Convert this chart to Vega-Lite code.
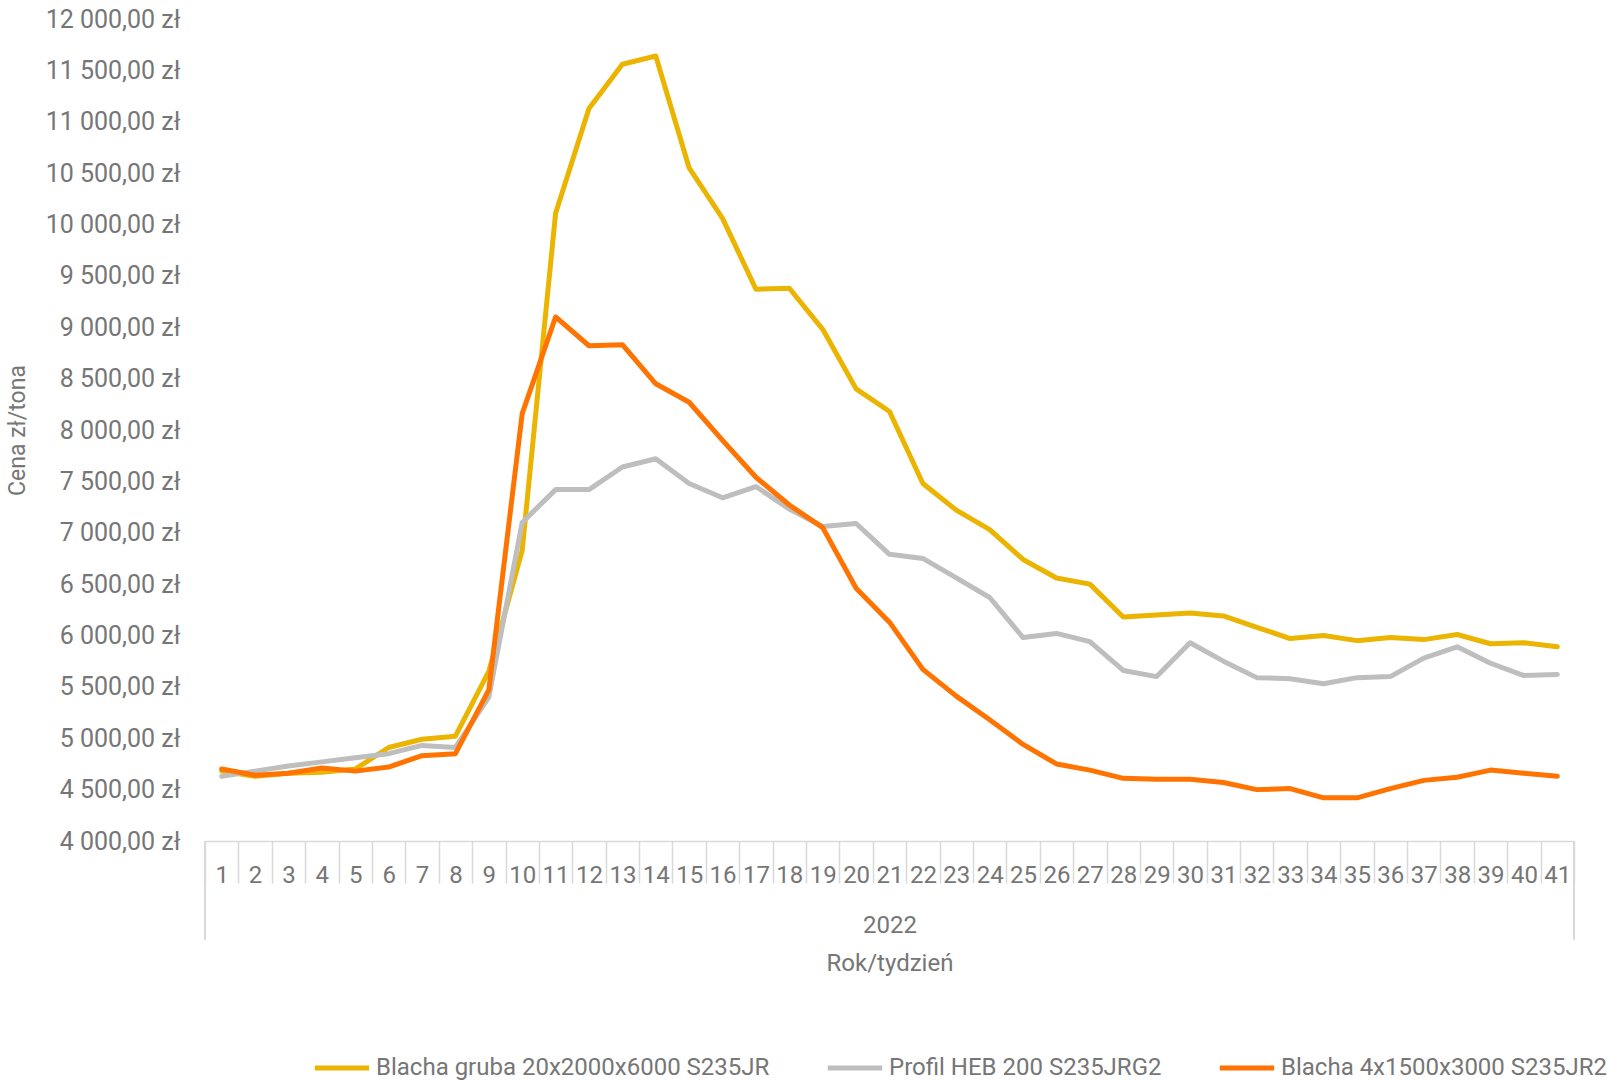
{
  "$schema": "https://vega.github.io/schema/vega-lite/v6.json",
  "width": 1369,
  "height": 822,
  "autosize": {"type": "none"},
  "padding": {"left": 205, "top": 19, "right": 39, "bottom": 239},
  "background": "white",
  "config": {
    "view": {"stroke": null},
    "locale": {"number": {"decimal": ",", "thousands": " ", "grouping": [3], "currency": ["", " zł"]}},
    "font": "Roboto",
    "axis": {"labelColor": "#767676", "titleColor": "#767676", "labelFont": "Roboto", "titleFont": "Roboto", "titleFontWeight": "normal"},
    "legend": {"labelColor": "#767676", "labelFont": "Roboto"}
  },
  "datasets": {
    "prices": [
      {"week": 1, "series": "Blacha gruba 20x2000x6000 S235JR", "price": 4680},
      {"week": 2, "series": "Blacha gruba 20x2000x6000 S235JR", "price": 4630},
      {"week": 3, "series": "Blacha gruba 20x2000x6000 S235JR", "price": 4660},
      {"week": 4, "series": "Blacha gruba 20x2000x6000 S235JR", "price": 4670},
      {"week": 5, "series": "Blacha gruba 20x2000x6000 S235JR", "price": 4700},
      {"week": 6, "series": "Blacha gruba 20x2000x6000 S235JR", "price": 4910},
      {"week": 7, "series": "Blacha gruba 20x2000x6000 S235JR", "price": 4990},
      {"week": 8, "series": "Blacha gruba 20x2000x6000 S235JR", "price": 5020},
      {"week": 9, "series": "Blacha gruba 20x2000x6000 S235JR", "price": 5650},
      {"week": 10, "series": "Blacha gruba 20x2000x6000 S235JR", "price": 6830},
      {"week": 11, "series": "Blacha gruba 20x2000x6000 S235JR", "price": 10110},
      {"week": 12, "series": "Blacha gruba 20x2000x6000 S235JR", "price": 11130},
      {"week": 13, "series": "Blacha gruba 20x2000x6000 S235JR", "price": 11560},
      {"week": 14, "series": "Blacha gruba 20x2000x6000 S235JR", "price": 11640},
      {"week": 15, "series": "Blacha gruba 20x2000x6000 S235JR", "price": 10550},
      {"week": 16, "series": "Blacha gruba 20x2000x6000 S235JR", "price": 10060},
      {"week": 17, "series": "Blacha gruba 20x2000x6000 S235JR", "price": 9370},
      {"week": 18, "series": "Blacha gruba 20x2000x6000 S235JR", "price": 9380},
      {"week": 19, "series": "Blacha gruba 20x2000x6000 S235JR", "price": 8980},
      {"week": 20, "series": "Blacha gruba 20x2000x6000 S235JR", "price": 8400},
      {"week": 21, "series": "Blacha gruba 20x2000x6000 S235JR", "price": 8180},
      {"week": 22, "series": "Blacha gruba 20x2000x6000 S235JR", "price": 7480},
      {"week": 23, "series": "Blacha gruba 20x2000x6000 S235JR", "price": 7220},
      {"week": 24, "series": "Blacha gruba 20x2000x6000 S235JR", "price": 7030},
      {"week": 25, "series": "Blacha gruba 20x2000x6000 S235JR", "price": 6740},
      {"week": 26, "series": "Blacha gruba 20x2000x6000 S235JR", "price": 6560},
      {"week": 27, "series": "Blacha gruba 20x2000x6000 S235JR", "price": 6500},
      {"week": 28, "series": "Blacha gruba 20x2000x6000 S235JR", "price": 6180},
      {"week": 29, "series": "Blacha gruba 20x2000x6000 S235JR", "price": 6200},
      {"week": 30, "series": "Blacha gruba 20x2000x6000 S235JR", "price": 6220},
      {"week": 31, "series": "Blacha gruba 20x2000x6000 S235JR", "price": 6190},
      {"week": 32, "series": "Blacha gruba 20x2000x6000 S235JR", "price": 6080},
      {"week": 33, "series": "Blacha gruba 20x2000x6000 S235JR", "price": 5970},
      {"week": 34, "series": "Blacha gruba 20x2000x6000 S235JR", "price": 6000},
      {"week": 35, "series": "Blacha gruba 20x2000x6000 S235JR", "price": 5950},
      {"week": 36, "series": "Blacha gruba 20x2000x6000 S235JR", "price": 5980},
      {"week": 37, "series": "Blacha gruba 20x2000x6000 S235JR", "price": 5960},
      {"week": 38, "series": "Blacha gruba 20x2000x6000 S235JR", "price": 6010},
      {"week": 39, "series": "Blacha gruba 20x2000x6000 S235JR", "price": 5920},
      {"week": 40, "series": "Blacha gruba 20x2000x6000 S235JR", "price": 5930},
      {"week": 41, "series": "Blacha gruba 20x2000x6000 S235JR", "price": 5890},
      {"week": 1, "series": "Profil HEB 200 S235JRG2", "price": 4630},
      {"week": 2, "series": "Profil HEB 200 S235JRG2", "price": 4680},
      {"week": 3, "series": "Profil HEB 200 S235JRG2", "price": 4730},
      {"week": 4, "series": "Profil HEB 200 S235JRG2", "price": 4770},
      {"week": 5, "series": "Profil HEB 200 S235JRG2", "price": 4810},
      {"week": 6, "series": "Profil HEB 200 S235JRG2", "price": 4850},
      {"week": 7, "series": "Profil HEB 200 S235JRG2", "price": 4930},
      {"week": 8, "series": "Profil HEB 200 S235JRG2", "price": 4910},
      {"week": 9, "series": "Profil HEB 200 S235JRG2", "price": 5400},
      {"week": 10, "series": "Profil HEB 200 S235JRG2", "price": 7100},
      {"week": 11, "series": "Profil HEB 200 S235JRG2", "price": 7420},
      {"week": 12, "series": "Profil HEB 200 S235JRG2", "price": 7420},
      {"week": 13, "series": "Profil HEB 200 S235JRG2", "price": 7640},
      {"week": 14, "series": "Profil HEB 200 S235JRG2", "price": 7720},
      {"week": 15, "series": "Profil HEB 200 S235JRG2", "price": 7480},
      {"week": 16, "series": "Profil HEB 200 S235JRG2", "price": 7340},
      {"week": 17, "series": "Profil HEB 200 S235JRG2", "price": 7450},
      {"week": 18, "series": "Profil HEB 200 S235JRG2", "price": 7230},
      {"week": 19, "series": "Profil HEB 200 S235JRG2", "price": 7060},
      {"week": 20, "series": "Profil HEB 200 S235JRG2", "price": 7090},
      {"week": 21, "series": "Profil HEB 200 S235JRG2", "price": 6790},
      {"week": 22, "series": "Profil HEB 200 S235JRG2", "price": 6750},
      {"week": 23, "series": "Profil HEB 200 S235JRG2", "price": 6560},
      {"week": 24, "series": "Profil HEB 200 S235JRG2", "price": 6370},
      {"week": 25, "series": "Profil HEB 200 S235JRG2", "price": 5980},
      {"week": 26, "series": "Profil HEB 200 S235JRG2", "price": 6020},
      {"week": 27, "series": "Profil HEB 200 S235JRG2", "price": 5940},
      {"week": 28, "series": "Profil HEB 200 S235JRG2", "price": 5660},
      {"week": 29, "series": "Profil HEB 200 S235JRG2", "price": 5600},
      {"week": 30, "series": "Profil HEB 200 S235JRG2", "price": 5930},
      {"week": 31, "series": "Profil HEB 200 S235JRG2", "price": 5750},
      {"week": 32, "series": "Profil HEB 200 S235JRG2", "price": 5590},
      {"week": 33, "series": "Profil HEB 200 S235JRG2", "price": 5580},
      {"week": 34, "series": "Profil HEB 200 S235JRG2", "price": 5530},
      {"week": 35, "series": "Profil HEB 200 S235JRG2", "price": 5590},
      {"week": 36, "series": "Profil HEB 200 S235JRG2", "price": 5600},
      {"week": 37, "series": "Profil HEB 200 S235JRG2", "price": 5780},
      {"week": 38, "series": "Profil HEB 200 S235JRG2", "price": 5890},
      {"week": 39, "series": "Profil HEB 200 S235JRG2", "price": 5730},
      {"week": 40, "series": "Profil HEB 200 S235JRG2", "price": 5610},
      {"week": 41, "series": "Profil HEB 200 S235JRG2", "price": 5620},
      {"week": 1, "series": "Blacha 4x1500x3000 S235JR2", "price": 4700},
      {"week": 2, "series": "Blacha 4x1500x3000 S235JR2", "price": 4640},
      {"week": 3, "series": "Blacha 4x1500x3000 S235JR2", "price": 4660},
      {"week": 4, "series": "Blacha 4x1500x3000 S235JR2", "price": 4710},
      {"week": 5, "series": "Blacha 4x1500x3000 S235JR2", "price": 4680},
      {"week": 6, "series": "Blacha 4x1500x3000 S235JR2", "price": 4720},
      {"week": 7, "series": "Blacha 4x1500x3000 S235JR2", "price": 4830},
      {"week": 8, "series": "Blacha 4x1500x3000 S235JR2", "price": 4850},
      {"week": 9, "series": "Blacha 4x1500x3000 S235JR2", "price": 5470},
      {"week": 10, "series": "Blacha 4x1500x3000 S235JR2", "price": 8160},
      {"week": 11, "series": "Blacha 4x1500x3000 S235JR2", "price": 9100},
      {"week": 12, "series": "Blacha 4x1500x3000 S235JR2", "price": 8820},
      {"week": 13, "series": "Blacha 4x1500x3000 S235JR2", "price": 8830},
      {"week": 14, "series": "Blacha 4x1500x3000 S235JR2", "price": 8450},
      {"week": 15, "series": "Blacha 4x1500x3000 S235JR2", "price": 8270},
      {"week": 16, "series": "Blacha 4x1500x3000 S235JR2", "price": 7900},
      {"week": 17, "series": "Blacha 4x1500x3000 S235JR2", "price": 7540},
      {"week": 18, "series": "Blacha 4x1500x3000 S235JR2", "price": 7270},
      {"week": 19, "series": "Blacha 4x1500x3000 S235JR2", "price": 7050},
      {"week": 20, "series": "Blacha 4x1500x3000 S235JR2", "price": 6460},
      {"week": 21, "series": "Blacha 4x1500x3000 S235JR2", "price": 6130},
      {"week": 22, "series": "Blacha 4x1500x3000 S235JR2", "price": 5670},
      {"week": 23, "series": "Blacha 4x1500x3000 S235JR2", "price": 5410},
      {"week": 24, "series": "Blacha 4x1500x3000 S235JR2", "price": 5180},
      {"week": 25, "series": "Blacha 4x1500x3000 S235JR2", "price": 4940},
      {"week": 26, "series": "Blacha 4x1500x3000 S235JR2", "price": 4750},
      {"week": 27, "series": "Blacha 4x1500x3000 S235JR2", "price": 4690},
      {"week": 28, "series": "Blacha 4x1500x3000 S235JR2", "price": 4610},
      {"week": 29, "series": "Blacha 4x1500x3000 S235JR2", "price": 4600},
      {"week": 30, "series": "Blacha 4x1500x3000 S235JR2", "price": 4600},
      {"week": 31, "series": "Blacha 4x1500x3000 S235JR2", "price": 4570},
      {"week": 32, "series": "Blacha 4x1500x3000 S235JR2", "price": 4500},
      {"week": 33, "series": "Blacha 4x1500x3000 S235JR2", "price": 4510},
      {"week": 34, "series": "Blacha 4x1500x3000 S235JR2", "price": 4420},
      {"week": 35, "series": "Blacha 4x1500x3000 S235JR2", "price": 4420},
      {"week": 36, "series": "Blacha 4x1500x3000 S235JR2", "price": 4510},
      {"week": 37, "series": "Blacha 4x1500x3000 S235JR2", "price": 4590},
      {"week": 38, "series": "Blacha 4x1500x3000 S235JR2", "price": 4620},
      {"week": 39, "series": "Blacha 4x1500x3000 S235JR2", "price": 4690},
      {"week": 40, "series": "Blacha 4x1500x3000 S235JR2", "price": 4660},
      {"week": 41, "series": "Blacha 4x1500x3000 S235JR2", "price": 4630}
    ]
  },
  "data": {"name": "prices"},
  "layer": [
    {
      "mark": {"type": "line", "strokeWidth": 5, "strokeJoin": "round", "strokeCap": "round"},
      "encoding": {
        "x": {
          "field": "week", "type": "ordinal",
          "scale": {"type": "band", "paddingInner": 0, "paddingOuter": 0},
          "axis": {
            "title": ["2022", "Rok/tydzień"],
            "labelAngle": 0,
            "tickBand": "extent",
            "tickSize": 42,
            "tickColor": "#d9d9d9",
            "tickWidth": 1.5,
            "domainColor": "#d9d9d9",
            "domainWidth": 1.5,
            "labelPadding": -20,
            "labelFontSize": 24,
            "titleFontSize": 24,
            "titleLineHeight": 38,
            "titlePadding": 26
          }
        },
        "y": {
          "field": "price", "type": "quantitative",
          "scale": {"domain": [4000, 12000], "nice": false, "zero": false},
          "axis": {
            "title": "Cena zł/tona",
            "values": [4000, 4500, 5000, 5500, 6000, 6500, 7000, 7500, 8000, 8500, 9000, 9500, 10000, 10500, 11000, 11500, 12000],
            "format": "$,.2f",
            "domain": false,
            "ticks": false,
            "grid": false,
            "labelPadding": 25,
            "labelFontSize": 25,
            "titleFontSize": 23,
            "titlePadding": 16
          }
        },
        "color": {
          "field": "series", "type": "nominal",
          "scale": {
            "domain": ["Blacha gruba 20x2000x6000 S235JR", "Profil HEB 200 S235JRG2", "Blacha 4x1500x3000 S235JR2"],
            "range": ["#EBB400", "#BEBEBE", "#FF7300"]
          },
          "legend": {
            "title": null,
            "orient": "none",
            "legendX": 107,
            "legendY": 1019,
            "direction": "horizontal",
            "symbolType": "stroke",
            "symbolStrokeWidth": 5,
            "symbolSize": 2950,
            "labelFontSize": 24,
            "labelLimit": 0,
            "labelOffset": 4,
            "columnPadding": 47
          }
        }
      }
    },
    {
      "mark": {"type": "rule", "color": "#d9d9d9", "strokeWidth": 1.5},
      "encoding": {
        "x": {"datum": 1, "type": "ordinal", "bandPosition": 0},
        "y": {"datum": 4000, "type": "quantitative"},
        "y2": {"datum": 3045}
      }
    },
    {
      "mark": {"type": "rule", "color": "#d9d9d9", "strokeWidth": 1.5},
      "encoding": {
        "x": {"datum": 41, "type": "ordinal", "bandPosition": 1},
        "y": {"datum": 4000, "type": "quantitative"},
        "y2": {"datum": 3045}
      }
    }
  ]
}
